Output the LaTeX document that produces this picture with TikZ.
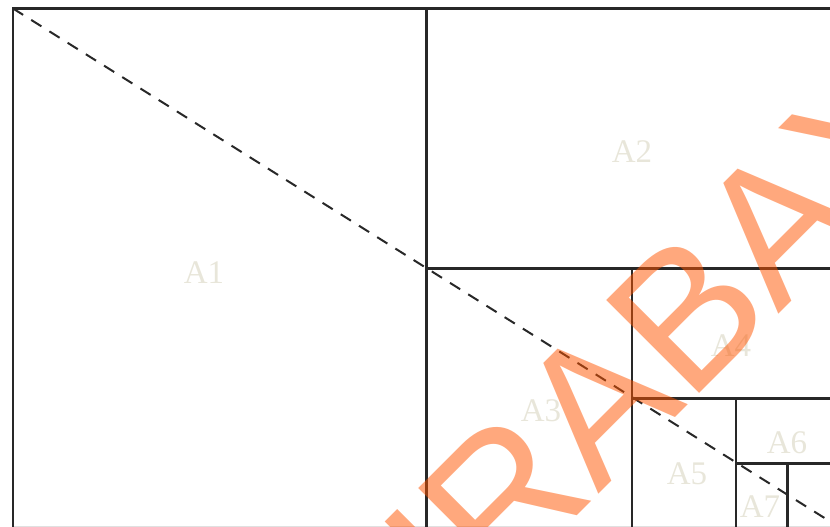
\documentclass[tikz,border=0pt]{standalone}
\usepackage{fontspec}
\setmainfont{Liberation Serif}
\newfontfamily\wmfont[Kerning=Off]{Liberation Sans}
\definecolor{labelcol}{RGB}{232,230,218}
\definecolor{wmorange}{RGB}{255,84,0}
\definecolor{linecol}{RGB}{40,40,40}
\begin{document}
\begin{tikzpicture}[x=1pt,y=-1pt,
  frame/.style={draw=linecol, line width=2.3pt},
  diag/.style={draw=linecol, line width=2pt, dash pattern=on 12pt off 9.5pt},
  lbl/.style={text=labelcol, font=\fontsize{33}{33}\selectfont, inner sep=0pt}]
\useasboundingbox (0,0) rectangle (830,527);
\clip (0,0) rectangle (830,527);
% corner points
\coordinate (tl) at (13,8.5);
\coordinate (tr) at (845,8.5);
\coordinate (bl) at (13,545);
\coordinate (v1t) at (426.5,8.5);
\coordinate (v1b) at (426.5,545);
\coordinate (h1l) at (426.5,268.5);
\coordinate (h1r) at (845,268.5);
\coordinate (v2t) at (632,268.5);
\coordinate (v2b) at (632,545);
\coordinate (h2l) at (632,398.5);
\coordinate (h2r) at (845,398.5);
\coordinate (v3t) at (736,398.5);
\coordinate (v3b) at (736,545);
\coordinate (h3l) at (736,463.5);
\coordinate (h3r) at (845,463.5);
\coordinate (v4t) at (787.5,463.5);
\coordinate (v4b) at (787.5,545);
\coordinate (dend) at (850,534);
\coordinate (gl) at (13,526.5);
\coordinate (gr) at (830,526.5);
% faint bottom edge
\draw[draw=black!12, line width=1pt] (gl) -- (gr);
% rectangles
\draw[frame] (bl) -- (tl) -- (tr);
\draw[frame] (v1t) -- (v1b);
\draw[frame] (h1l) -- (h1r);
\draw[frame] (v2t) -- (v2b);
\draw[frame] (h2l) -- (h2r);
\draw[frame] (v3t) -- (v3b);
\draw[frame] (h3l) -- (h3r);
\draw[frame] (v4t) -- (v4b);
% diagonal
\draw[diag] (tl) -- (dend);
% labels
\node[lbl] (a1) at (204,272.5) {A1};
\node[lbl] (a2) at (632,151.5) {A2};
\node[lbl] (a3) at (541,411) {A3};
\node[lbl] (a4) at (731,346) {A4};
\node[lbl] (a5) at (687,474) {A5};
\node[lbl] (a6) at (787,443) {A6};
\node[lbl] (a7) at (760,507) {A7};
% watermark
\node[rotate=45, anchor=base west, inner sep=0pt, text=wmorange, text opacity=0.51,
  font=\wmfont\fontsize{191}{191}\selectfont] (wm) at (313,780) {SURABAYA};
\end{tikzpicture}
\end{document}
